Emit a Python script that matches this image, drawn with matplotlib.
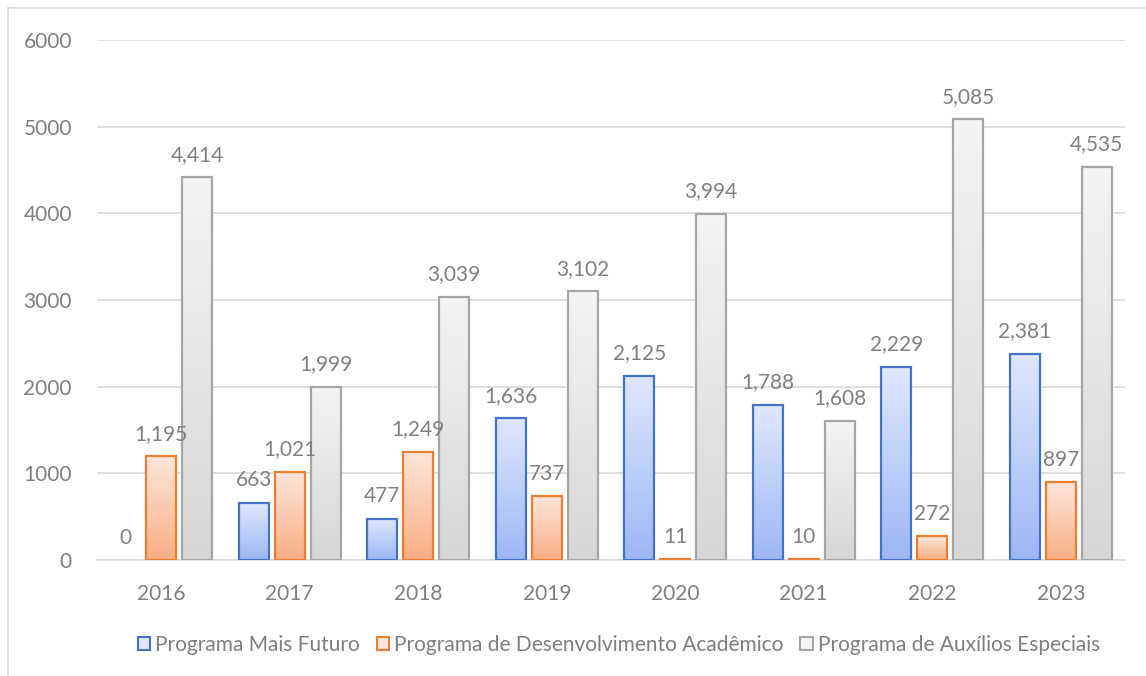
import numpy as np
import matplotlib
matplotlib.use("Agg")
import matplotlib.pyplot as plt
from matplotlib.colors import LinearSegmentedColormap
from matplotlib.patches import Rectangle
from matplotlib.lines import Line2D

years = ["2016", "2017", "2018", "2019", "2020", "2021", "2022", "2023"]
mais_futuro = [0, 663, 477, 1636, 2125, 1788, 2229, 2381]
desenvolvimento = [1195, 1021, 1249, 737, 11, 10, 272, 897]
auxilios = [4414, 1999, 3039, 3102, 3994, 1608, 5085, 4535]
series_names = ["Programa Mais Futuro", "Programa de Desenvolvimento Acadêmico",
                "Programa de Auxílios Especiais"]

# (top colour, bottom colour, edge colour)
styles = [("#dfe7fd", "#9db7f5", "#4472c4"),
          ("#fde6da", "#f8ae83", "#ed7d31"),
          ("#f4f4f4", "#d6d6d6", "#a5a5a5")]

TXT = "#7f7f7f"
FS = 15
plt.rcParams.update({"font.family": ["Lato", "DejaVu Sans"], "text.color": TXT})

fig = plt.figure(figsize=(11.46, 6.76), dpi=100, facecolor="white")
ax = fig.add_axes([97 / 1146, 1 - 560 / 676, 1028 / 1146, 520 / 676])

x = np.arange(len(years))
w = 0.233
off = 0.28
grad = np.linspace(0, 1, 256).reshape(-1, 1)

for i, (vals, (top, bot, edge)) in enumerate(zip([mais_futuro, desenvolvimento, auxilios], styles)):
    cmap = LinearSegmentedColormap.from_list(f"g{i}", [bot, top])
    bars = ax.bar(x + (i - 1) * off, vals, w, facecolor="none", edgecolor=edge,
                  linewidth=1.6, zorder=3)
    for b, v in zip(bars, vals):
        if v > 0:
            im = ax.imshow(grad, cmap=cmap, aspect="auto", origin="lower",
                           extent=[b.get_x(), b.get_x() + b.get_width(), 0, b.get_height()],
                           zorder=2)
            im.set_clip_path(b)
        else:
            b.set_edgecolor("none")
        ax.annotate(f"{v:,}", (b.get_x() + b.get_width() / 2, v), xytext=(0, 9),
                    textcoords="offset points", ha="center", va="bottom",
                    fontsize=FS, color="#808080", zorder=4)

ax.set_xlim(-0.5, len(years) - 0.5)
ax.set_ylim(0, 6000)
ax.set_yticks(range(0, 6001, 1000))
ax.set_xticks(x, years)
ax.grid(axis="y", color="#d9d9d9", linewidth=1.2, zorder=0)
ax.set_axisbelow(True)
for s in ["top", "right", "left"]:
    ax.spines[s].set_visible(False)
ax.spines["bottom"].set_color("#d9d9d9")
ax.spines["bottom"].set_linewidth(1.2)
ax.tick_params(axis="both", length=0, labelsize=FS, labelcolor=TXT)
ax.tick_params(axis="y", pad=18)
ax.tick_params(axis="x", pad=17)

handles = [Rectangle((0, 0), 1, 1, facecolor=top, edgecolor=edge, linewidth=1.5)
           for top, bot, edge in styles]
fig.legend(handles, series_names, loc="center", bbox_to_anchor=(619 / 1146, 1 - 645 / 676),
           ncol=3, frameon=False, fontsize=FS, handlelength=0.6, handleheight=0.6,
           handletextpad=0.25, columnspacing=0.8, labelcolor=TXT)

# chart border (top and left visible)
fig.add_artist(Line2D([8 / 1146, 8 / 1146], [0, 1 - 8 / 676], color="#d9d9d9",
                      linewidth=1.2, transform=fig.transFigure))
fig.add_artist(Line2D([8 / 1146, 1], [1 - 8 / 676, 1 - 8 / 676], color="#d9d9d9",
                      linewidth=1.2, transform=fig.transFigure))

fig.savefig("out.png", dpi=100, facecolor="white")
